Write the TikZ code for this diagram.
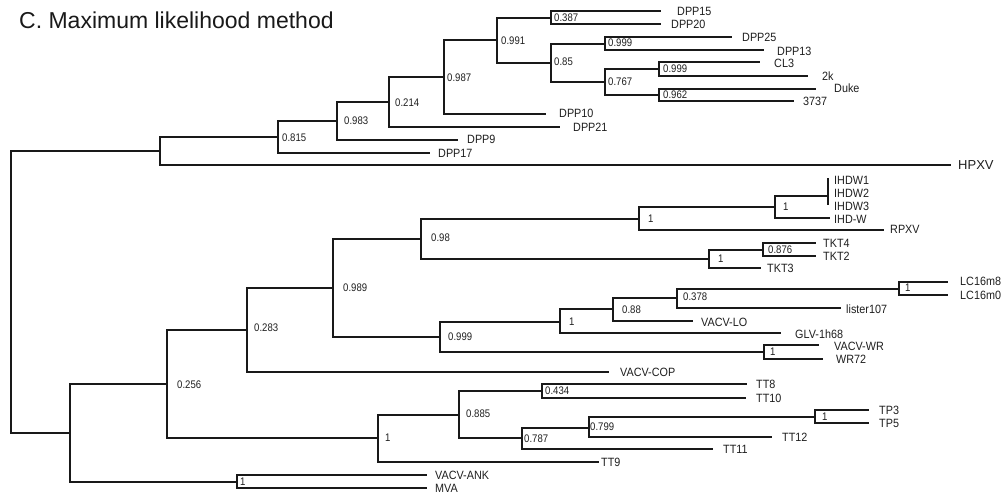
\documentclass[tikz,border=0pt]{standalone}
\usepackage{fontspec}
\usepackage{graphicx}
\setmainfont{Liberation Sans}
\newcommand{\lf}[1]{\scalebox{0.9}[1]{#1}}
\newcommand{\sv}[1]{\scalebox{0.87}[1]{#1}}
\begin{document}
\begin{tikzpicture}[x=1pt,y=-1pt,
  br/.style={line width=2pt, line cap=rect, line join=miter, black!90},
  leaf/.style={anchor=west, inner sep=0pt, text height=8.6pt, text depth=0pt,
    font=\fontsize{12}{12}\selectfont, text=black!88},
  supp/.style={anchor=west, inner sep=0pt, text height=7.9pt, text depth=0pt,
    font=\fontsize{11}{11}\selectfont, text=black!88},
  big/.style={anchor=west, inner sep=0pt, text height=9.3pt, text depth=0pt,
    font=\fontsize{13}{13}\selectfont, text=black!88}]
\useasboundingbox (0,0) rectangle (1006,493);
\fill[white] (0,0) rectangle (1006,493);
% title
\node[anchor=base west, inner sep=0pt, font=\fontsize{23}{23}\selectfont, text=black!90] (title) at (19,28) {C. Maximum likelihood method};
% internal nodes
\coordinate (root) at (11,292);
\coordinate (nA) at (160,151);
\coordinate (n815) at (278,137);
\coordinate (n983) at (337,121);
\coordinate (n214) at (389,102);
\coordinate (n987) at (444,77);
\coordinate (n991) at (497,40);
\coordinate (n387) at (551,17.5);
\coordinate (n85) at (551,62.75);
\coordinate (n999a) at (605,43.5);
\coordinate (n767) at (605,82);
\coordinate (n999b) at (659,69);
\coordinate (n962) at (659,95);
\coordinate (nB) at (70,433);
\coordinate (n256) at (167,383.5);
\coordinate (nMVA) at (237,481.5);
\coordinate (n283) at (247,330);
\coordinate (nTT) at (378,438);
\coordinate (n989) at (333,288);
\coordinate (n98) at (421,238.7);
\coordinate (n999c) at (440,337);
\coordinate (n1a) at (639,218.5);
\coordinate (n1b) at (775,207);
\coordinate (nI) at (828,196);
\coordinate (n1TKT) at (709,258.75);
\coordinate (n876) at (763,249.5);
\coordinate (n1c) at (560,321.5);
\coordinate (n88) at (613,309);
\coordinate (n378) at (677,298);
\coordinate (n1LC) at (899,288.5);
\coordinate (n1WR) at (764,352);
\coordinate (n885) at (459,414.5);
\coordinate (n434) at (542,391);
\coordinate (n787) at (522,438);
\coordinate (n799) at (589,427.5);
\coordinate (n1TP) at (815,416.5);
% leaf tips
\coordinate (tDPP15) at (660,11);
\coordinate (tDPP20) at (660,24);
\coordinate (tDPP25) at (731,37);
\coordinate (tDPP13) at (763,50);
\coordinate (tCL3) at (759,62);
\coordinate (t2k) at (807,76);
\coordinate (tDuke) at (815,89);
\coordinate (t3737) at (793,101);
\coordinate (tDPP10) at (545,114);
\coordinate (tDPP21) at (559,127);
\coordinate (tDPP9) at (457,140);
\coordinate (tDPP17) at (429,153);
\coordinate (tHPXV) at (950,165);
\coordinate (tI1) at (828,179);
\coordinate (tI3) at (828,204);
\coordinate (tIHDW) at (829,218);
\coordinate (tRPXV) at (883,230);
\coordinate (tTKT4) at (815,243);
\coordinate (tTKT2) at (815,256);
\coordinate (tTKT3) at (760,268);
\coordinate (tLC8) at (947,282);
\coordinate (tLC0) at (947,295);
\coordinate (tLister) at (840,308);
\coordinate (tLO) at (692,320.5);
\coordinate (tGLV) at (780,333);
\coordinate (tVWR) at (818,345);
\coordinate (tWR72) at (822,359);
\coordinate (tCOP) at (608,372);
\coordinate (tTT8) at (746,384);
\coordinate (tTT10) at (745,398);
\coordinate (tTP3) at (868,410);
\coordinate (tTP5) at (868,423);
\coordinate (tTT12) at (771,437);
\coordinate (tTT11) at (712,449);
\coordinate (tTT9) at (598,462);
\coordinate (tANK) at (426,475);
\coordinate (tMVA) at (426,488);
% branches
\foreach \p/\c in {root/nA, root/nB,
  nA/n815, nA/tHPXV, n815/n983, n815/tDPP17, n983/n214, n983/tDPP9,
  n214/n987, n214/tDPP21, n987/n991, n987/tDPP10, n991/n387, n991/n85,
  n387/tDPP15, n387/tDPP20, n85/n999a, n85/n767, n999a/tDPP25, n999a/tDPP13,
  n767/n999b, n767/n962, n999b/tCL3, n999b/t2k, n962/tDuke, n962/t3737,
  nB/n256, nB/nMVA, nMVA/tANK, nMVA/tMVA, n256/n283, n256/nTT,
  n283/n989, n283/tCOP, n989/n98, n989/n999c, n98/n1a, n98/n1TKT,
  n1a/n1b, n1a/tRPXV, n1b/nI, n1b/tIHDW, nI/tI1, nI/tI3,
  n1TKT/n876, n1TKT/tTKT3, n876/tTKT4, n876/tTKT2,
  n999c/n1c, n999c/n1WR, n1c/n88, n1c/tGLV, n88/n378, n88/tLO,
  n378/n1LC, n378/tLister, n1LC/tLC8, n1LC/tLC0, n1WR/tVWR, n1WR/tWR72,
  nTT/n885, nTT/tTT9, n885/n434, n885/n787, n434/tTT8, n434/tTT10,
  n787/n799, n787/tTT11, n799/n1TP, n799/tTT12, n1TP/tTP3, n1TP/tTP5}
  \draw[br] (\p) |- (\c);
% leaf labels
\node[leaf] (lDPP15) at (677,11) {\lf{DPP15}};
\node[leaf] (lDPP20) at (671,24) {\lf{DPP20}};
\node[leaf] (lDPP25) at (742,37) {\lf{DPP25}};
\node[leaf] (lDPP13) at (777,51) {\lf{DPP13}};
\node[leaf] (lCL3) at (774,63) {\lf{CL3}};
\node[leaf] (l2k) at (822,76) {\lf{2k}};
\node[leaf] (lDuke) at (834,88) {\lf{Duke}};
\node[leaf] (l3737) at (803,101) {\lf{3737}};
\node[leaf] (lDPP10) at (559,113) {\lf{DPP10}};
\node[leaf] (lDPP21) at (573,127) {\lf{DPP21}};
\node[leaf] (lDPP9) at (467,139) {\lf{DPP9}};
\node[leaf] (lDPP17) at (438,153) {\lf{DPP17}};
\node[big] (lHPXV) at (958,165) {HPXV};
\node[leaf] (lIHDW1) at (834,180) {\lf{IHDW1}};
\node[leaf] (lIHDW2) at (834,193) {\lf{IHDW2}};
\node[leaf] (lIHDW3) at (834,206) {\lf{IHDW3}};
\node[leaf] (lIHDW) at (834,219) {\lf{IHD-W}};
\node[leaf] (lRPXV) at (890,229) {\lf{RPXV}};
\node[leaf] (lTKT4) at (823,243) {\lf{TKT4}};
\node[leaf] (lTKT2) at (823,256) {\lf{TKT2}};
\node[leaf] (lTKT3) at (767,268) {\lf{TKT3}};
\node[leaf] (lLC8) at (960,281) {\lf{LC16m8}};
\node[leaf] (lLC0) at (960,295) {\lf{LC16m0}};
\node[leaf] (lLister) at (846,309) {\lf{lister107}};
\node[leaf] (lLO) at (701,322) {\lf{VACV-LO}};
\node[leaf] (lGLV) at (795,334) {\lf{GLV-1h68}};
\node[leaf] (lVWR) at (834,346) {\lf{VACV-WR}};
\node[leaf] (lWR72) at (836,359) {\lf{WR72}};
\node[leaf] (lCOP) at (620,372) {\lf{VACV-COP}};
\node[leaf] (lTT8) at (756,384) {\lf{TT8}};
\node[leaf] (lTT10) at (756,398) {\lf{TT10}};
\node[leaf] (lTP3) at (879,410) {\lf{TP3}};
\node[leaf] (lTP5) at (879,423) {\lf{TP5}};
\node[leaf] (lTT12) at (782,437) {\lf{TT12}};
\node[leaf] (lTT11) at (723,449) {\lf{TT11}};
\node[leaf] (lTT9) at (601,462) {\lf{TT9}};
\node[leaf] (lANK) at (435,475) {\lf{VACV-ANK}};
\node[leaf] (lMVA) at (435,488) {\lf{MVA}};
% support values
\node[supp] (s387) at (554,18) {\sv{0.387}};
\node[supp] (s991) at (501,41) {\sv{0.991}};
\node[supp] (s999a) at (608,43) {\sv{0.999}};
\node[supp] (s85) at (554,62) {\sv{0.85}};
\node[supp] (s999b) at (663,69) {\sv{0.999}};
\node[supp] (s987) at (447,78) {\sv{0.987}};
\node[supp] (s767) at (608,82) {\sv{0.767}};
\node[supp] (s962) at (663,95) {\sv{0.962}};
\node[supp] (s214) at (395,103) {\sv{0.214}};
\node[supp] (s983) at (344,121) {\sv{0.983}};
\node[supp] (s815) at (282,138) {\sv{0.815}};
\node[supp] (s1b) at (783,207) {\sv{1}};
\node[supp] (s1a) at (648,219) {\sv{1}};
\node[supp] (s98) at (431,238) {\sv{0.98}};
\node[supp] (s876) at (768,250) {\sv{0.876}};
\node[supp] (s1TKT) at (718,259) {\sv{1}};
\node[supp] (s1LC) at (905,288) {\sv{1}};
\node[supp] (s989) at (343,288) {\sv{0.989}};
\node[supp] (s378) at (683,297) {\sv{0.378}};
\node[supp] (s88) at (622,310) {\sv{0.88}};
\node[supp] (s1c) at (569,322) {\sv{1}};
\node[supp] (s283) at (254,328) {\sv{0.283}};
\node[supp] (s999c) at (448,337) {\sv{0.999}};
\node[supp] (s1WR) at (770,352) {\sv{1}};
\node[supp] (s256) at (177,385) {\sv{0.256}};
\node[supp] (s434) at (545,391) {\sv{0.434}};
\node[supp] (s885) at (466,414) {\sv{0.885}};
\node[supp] (s1TP) at (822,417) {\sv{1}};
\node[supp] (s799) at (590,427) {\sv{0.799}};
\node[supp] (s1TT) at (385,438) {\sv{1}};
\node[supp] (s787) at (524,439) {\sv{0.787}};
\node[supp] (s1MVA) at (240,482) {\sv{1}};
\end{tikzpicture}
\end{document}
